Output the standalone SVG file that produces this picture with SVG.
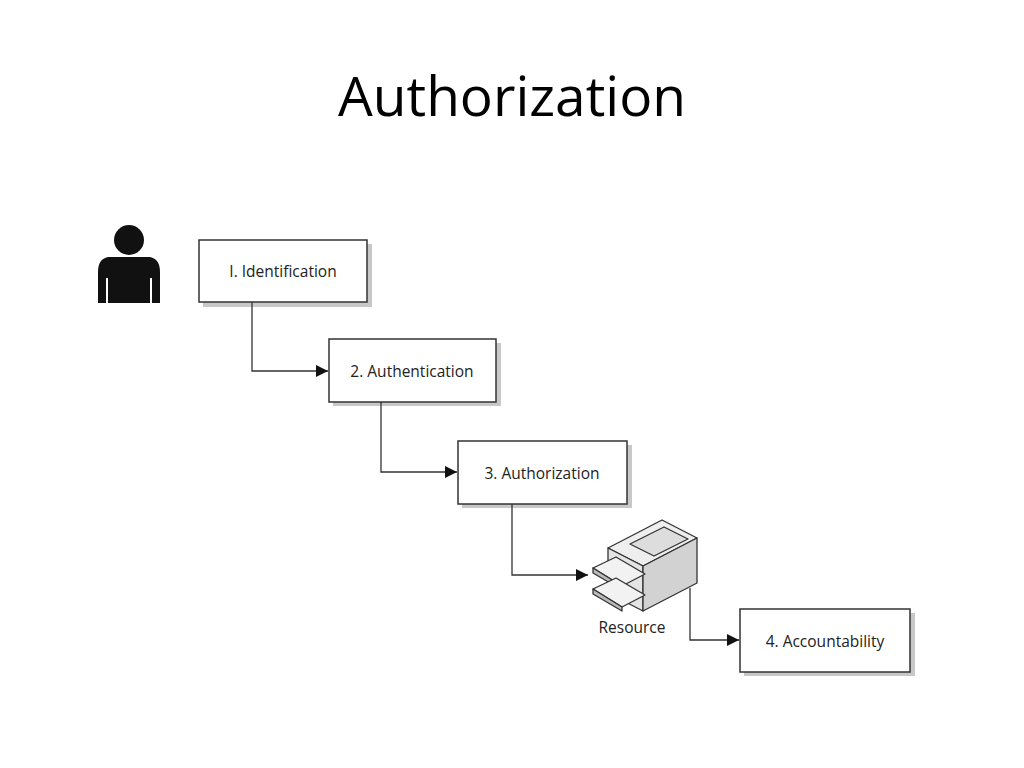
<svg xmlns="http://www.w3.org/2000/svg" width="1024" height="768" viewBox="0 0 1024 768">
<defs>
<marker id="ar" viewBox="0 0 10 10" refX="10" refY="5" markerWidth="14" markerHeight="12" markerUnits="userSpaceOnUse" orient="auto"><path d="M0,0 L10,5 L0,10 Z" fill="#111"/></marker>
</defs>
<style>
.box{fill:#fff;stroke:#333;stroke-width:1.5}
.sh{fill:#c8c8c8}
.lbl{font-family:"Open Sans","Liberation Sans",sans-serif;font-size:15.5px;fill:#222}
.ln{fill:none;stroke:#333;stroke-width:1.3}
</style>
<rect width="1024" height="768" fill="#fff"/>
<text x="512" y="116" text-anchor="middle" font-family="'Open Sans','Liberation Sans',sans-serif" font-size="55" fill="#000">Authorization</text>
<g id="person" fill="#111">
<circle cx="129" cy="240" r="15"/>
<path d="M108,257 H150 Q160,259 160,272 V303 H152 V278 H150 V303 H108 V278 H106 V303 H98 V272 Q98,259 108,257 Z"/>
</g>
<g id="n1"><rect class="sh" x="203" y="244" width="169" height="63"/><rect class="box" x="199" y="240" width="168" height="62"/><text class="lbl" x="283" y="277" text-anchor="middle">I.  Identification</text></g>
<g id="n2"><rect class="sh" x="333" y="343" width="168" height="63"/><rect class="box" x="329" y="339" width="167" height="63"/><text class="lbl" x="412" y="377" text-anchor="middle">2. Authentication</text></g>
<g id="n3"><rect class="sh" x="462" y="445" width="170" height="63"/><rect class="box" x="458" y="441" width="169" height="63"/><text class="lbl" x="542" y="479" text-anchor="middle">3. Authorization</text></g>
<g id="n4"><rect class="sh" x="744" y="613" width="171" height="63"/><rect class="box" x="740" y="609" width="170" height="63"/><text class="lbl" x="825" y="647" text-anchor="middle">4. Accountability</text></g>
<g id="resource" stroke="#333" stroke-width="1.3" stroke-linejoin="round">
<path d="M608,548 L662,520 L697,538 L643,566 Z" fill="#eee"/>
<path d="M630,544 L664,527 L688,539 L654,556 Z" fill="#ddd"/>
<path d="M608,548 L643,566 L643,611 L608,593 Z" fill="#e4e4e4"/>
<path d="M643,566 L697,538 L697,583 L643,611 Z" fill="#d2d2d2"/>
<path d="M593,568 L616,557 L645,574 L622,586 Z" fill="#f2f2f2"/>
<path d="M593,568 L622,586 L622,590 L593,573 Z" fill="#bbb"/>
<path d="M593,589 L616,578 L645,595 L622,607 Z" fill="#f2f2f2"/>
<path d="M593,589 L622,607 L622,611 L593,594 Z" fill="#bbb"/>
<text x="632" y="633" text-anchor="middle" stroke="none" class="lbl" font-size="15">Resource</text>
</g>
<g id="connectors">
<path class="ln" d="M252,302 V371 H328" marker-end="url(#ar)"/>
<path class="ln" d="M381,402 V472 H457" marker-end="url(#ar)"/>
<path class="ln" d="M512,504 V575 H588" marker-end="url(#ar)"/>
<path class="ln" d="M690,588 V640 H739" marker-end="url(#ar)"/>
</g>
</svg>
